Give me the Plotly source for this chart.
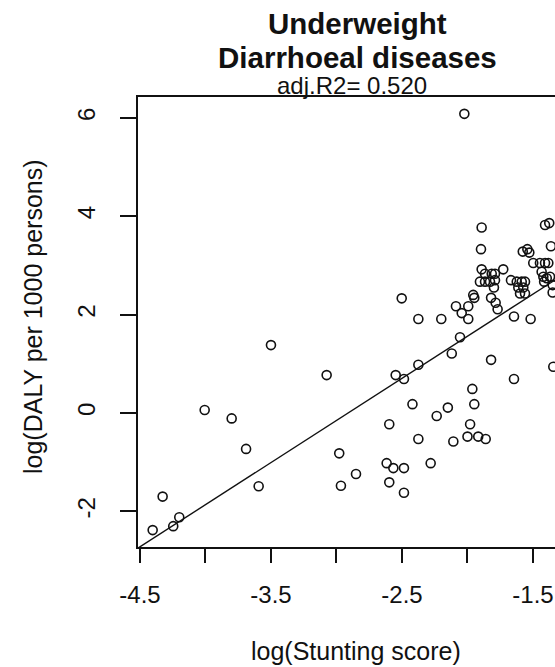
import plotly.graph_objects as go

# ---- data ----
stunting_log = [
    -4.403, -4.246, -4.200, -4.327, -3.594, -3.690, -3.800, -4.006, -3.500, -3.075,
    -2.979, -2.966, -2.851, -2.617, -2.566, -2.485, -2.281, -2.597, -2.485, -2.597,
    -2.420, -2.375, -2.235, -2.150, -2.108, -1.980, -2.000, -1.918, -1.861, -1.963,
    -1.948, -2.548, -2.485, -2.375, -2.120, -2.057, -1.820, -1.645, -1.345,
    -2.502, -2.375, -2.200, -2.088, -1.994, -1.948, -2.044, -1.994, -1.820, -1.785,
    -1.770, -1.645, -1.518, -1.350, -2.024,
    -1.892, -1.897, -1.408, -1.376, -1.363, -1.578, -1.543, -1.528, -1.498, -1.447,
    -1.408, -1.383, -1.434, -1.421, -1.395, -1.370, -1.892, -1.866, -1.815, -1.790,
    -1.727, -1.905, -1.866, -1.828, -1.790, -1.798, -1.668, -1.624, -1.586, -1.561,
    -1.612, -1.574, -1.599, -1.561, -1.956, -1.350, -1.415,
]
daly_log = [
    -2.38, -2.30, -2.12, -1.70, -1.49, -0.73, -0.11, 0.06, 1.38, 0.77,
    -0.82, -1.48, -1.24, -1.02, -1.12, -1.12, -1.02, -1.41, -1.62, -0.23,
    0.18, -0.53, -0.06, 0.11, -0.58, -0.23, -0.48, -0.48, -0.53, 0.49,
    0.18, 0.77, 0.69, 0.98, 1.21, 1.54, 1.08, 0.69, 0.94,
    2.33, 1.91, 1.91, 2.17, 2.17, 2.34, 2.03, 1.91, 2.34, 2.24,
    2.11, 1.96, 1.91, 2.45, 6.08,
    3.77, 3.33, 3.82, 3.86, 3.39, 3.28, 3.33, 3.26, 3.05, 3.05,
    3.05, 3.05, 2.87, 2.77, 2.74, 2.77, 2.92, 2.83, 2.83, 2.83,
    2.92, 2.67, 2.67, 2.67, 2.70, 2.55, 2.70, 2.67, 2.67, 2.67,
    2.55, 2.55, 2.43, 2.43, 2.40, 2.60, 2.67,
]

fit_intercept = 4.984
fit_slope = 1.712

x_tick_vals = [-4.5, -4.0, -3.5, -3.0, -2.5, -2.0, -1.5]
x_tick_labels = ["-4.5", "", "-3.5", "", "-2.5", "", "-1.5"]
y_tick_vals = [-2, 0, 2, 4, 6]
y_tick_labels = ["-2", "0", "2", "4", "6"]

title_line1 = "Underweight"
title_line2 = "Diarrhoeal diseases"
subtitle = "adj.R2= 0.520"
x_title = "log(Stunting score)"
y_title = "log(DALY per 1000 persons)"

# ---- layout geometry ----
W, H = 555, 667
L, T, B = 138, 97, 120
x_range = [-4.515, -1.332]
y_range = [-2.724, 6.423]
FONT = "Liberation Sans, Arial, sans-serif"
INK = "#111111"

plot_w = W - L
plot_h = H - T - B


def px_to_paper_x(px):
    return (px - L) / plot_w


def py_to_paper_y(py):
    return (H - B - py) / plot_h


fig = go.Figure()

fig.add_trace(go.Scatter(
    x=stunting_log, y=daly_log, mode="markers",
    marker=dict(symbol="circle-open", size=9, color=INK, line=dict(width=1.6, color=INK)),
    showlegend=False, hoverinfo="x+y",
))

line_x = [x_range[0] - 0.1, x_range[1] + 0.5]
line_y = [fit_intercept + fit_slope * v for v in line_x]
fig.add_trace(go.Scatter(
    x=line_x, y=line_y, mode="lines",
    line=dict(color=INK, width=1.4), showlegend=False, hoverinfo="skip",
))

fig.update_layout(
    width=W, height=H,
    margin=dict(l=L, r=0, t=T, b=B, autoexpand=False),
    paper_bgcolor="white", plot_bgcolor="white",
    font=dict(family=FONT, color=INK),
    xaxis=dict(
        range=x_range, showgrid=False, zeroline=False,
        showline=True, linecolor=INK, linewidth=1.8, mirror=True,
        ticks="outside", ticklen=14, tickwidth=1.8, tickcolor=INK,
        tickvals=x_tick_vals, ticktext=x_tick_labels,
        tickfont=dict(size=24, family=FONT, color=INK),
        ticklabelstandoff=11, automargin=False,
    ),
    yaxis=dict(
        range=y_range, showgrid=False, zeroline=False,
        showline=True, linecolor=INK, linewidth=1.8,
        ticks="outside", ticklen=16, tickwidth=1.8, tickcolor=INK,
        tickvals=y_tick_vals, ticktext=y_tick_labels, tickangle=-90,
        tickfont=dict(size=24, family=FONT, color=INK),
        ticklabelstandoff=16, automargin=False,
    ),
)

annots = [
    dict(text="<b>%s</b>" % title_line1, px=357, py=23, size=29.5),
    dict(text="<b>%s</b>" % title_line2, px=357, py=57, size=29.5),
    dict(text=subtitle, px=352, py=85, size=24),
    dict(text=x_title, px=356, py=651, size=25),
]
for a in annots:
    fig.add_annotation(
        text=a["text"], xref="paper", yref="paper",
        x=px_to_paper_x(a["px"]), y=py_to_paper_y(a["py"]),
        xanchor="center", yanchor="middle", showarrow=False,
        font=dict(size=a["size"], family=FONT, color=INK),
    )
fig.add_annotation(
    text=y_title, xref="paper", yref="paper",
    x=px_to_paper_x(33), y=py_to_paper_y(317), textangle=-90,
    xanchor="center", yanchor="middle", showarrow=False,
    font=dict(size=25, family=FONT, color=INK),
)

fig.write_html("out.html")
